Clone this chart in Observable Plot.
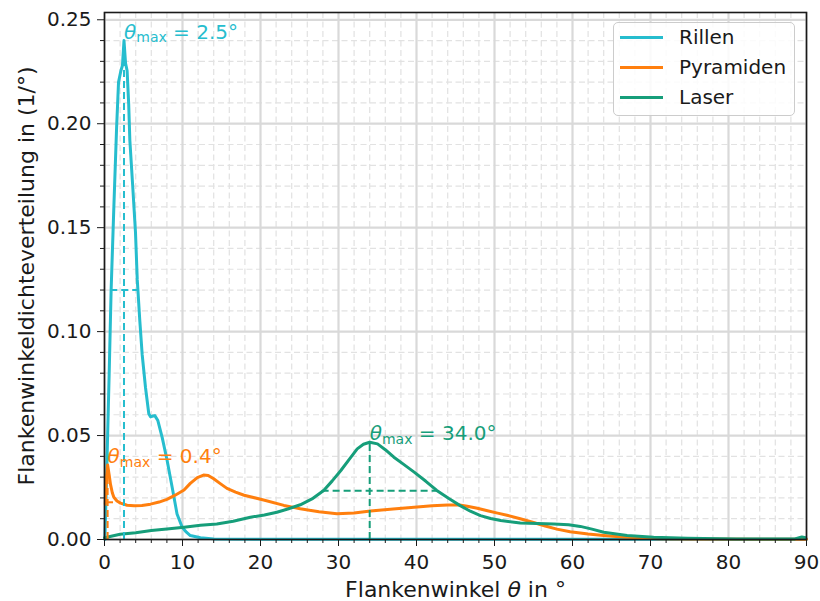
<!DOCTYPE html>
<html><head><meta charset="utf-8">
<script src="https://cdn.jsdelivr.net/npm/d3@7"></script>
<script src="https://cdn.jsdelivr.net/npm/@observablehq/plot@0.6"></script>
<style>
body{margin:0;background:#fff;}
#wrap{position:relative;width:820px;height:601px;font-family:"DejaVu Sans";}
#legend{position:absolute;left:613px;top:22px;width:180px;height:92px;border:1px solid #cccccc;border-radius:5px;background:rgba(255,255,255,0.85);}
.row{position:absolute;left:0;height:30px;display:flex;align-items:center;font-size:20px;color:#1a1a1a;white-space:nowrap}
.row .sw{display:inline-block;width:43px;height:3px;margin-left:6px;margin-right:16px}
</style></head>
<body><div id="wrap"><div id="legend"></div></div>
<script>
const series = ["Rillen", "Pyramiden", "Laser"];
const colors = ["#26bdce", "#ff7f0e", "#169e7a"];

const rillenTheta   = [0.05, 0.3, 0.6, 0.85, 1.2, 1.55, 1.8, 2.1, 2.3, 2.5, 2.7, 2.9, 3.1, 3.25, 3.6, 3.97, 4.2, 4.53, 4.83, 5.26, 5.68, 5.9, 6.2, 6.45, 6.84, 7.4, 8.03, 8.68, 9.3, 9.96, 10.5, 11.0, 12.3, 14, 20, 30, 90];
const rillenDensity = [0.000, 0.035, 0.080, 0.120, 0.160, 0.198, 0.220, 0.2255, 0.228, 0.240, 0.229, 0.2255, 0.2096, 0.192, 0.171, 0.148, 0.125, 0.105, 0.089, 0.073, 0.0605, 0.059, 0.0594, 0.0596, 0.0572, 0.049, 0.038, 0.025, 0.0123, 0.0059, 0.0035, 0.0019, 0.0008, 0.0003, 0.0001, 0.0001, 0.0001];

const pyramidenTheta   = [0.1, 0.2, 0.4, 0.6, 0.77, 1.0, 1.2, 1.6, 2.05, 2.9, 3.8, 4.8, 5.9, 7.0, 8.0, 9.0, 10.2, 11.0, 11.9, 12.7, 13.3, 14.0, 14.8, 15.7, 16.8, 17.9, 20.4, 23.0, 25.1, 27.5, 29.8, 32.0, 34.1, 37.0, 39.7, 42.0, 44.0, 45.5, 46.5, 47.8, 49.1, 50.4, 51.6, 53.3, 55.0, 56.5, 58.0, 59.7, 62.0, 64.0, 66.0, 68.3, 71.0, 75.0, 90.0];
const pyramidenDensity = [0.017, 0.028, 0.0358, 0.031, 0.0265, 0.0225, 0.0203, 0.0185, 0.0175, 0.0165, 0.0162, 0.0164, 0.0170, 0.0180, 0.0193, 0.0212, 0.0238, 0.0270, 0.0298, 0.0310, 0.0308, 0.0292, 0.0270, 0.0246, 0.0228, 0.0213, 0.0190, 0.0164, 0.0148, 0.0133, 0.0124, 0.0128, 0.0137, 0.0147, 0.0155, 0.0162, 0.0166, 0.0166, 0.0160, 0.0150, 0.0138, 0.0127, 0.0117, 0.0100, 0.0082, 0.0065, 0.0050, 0.0037, 0.0026, 0.0019, 0.0013, 0.0008, 0.0004, 0.0002, 0.0001];

const laserTheta   = [0, 2, 4, 6, 8, 10.2, 12.3, 14.4, 16.5, 18.7, 20.5, 22.1, 23.6, 25.1, 26.6, 28.1, 29.2, 30.3, 31.4, 32.4, 33.2, 34.0, 35.0, 36.0, 37.1, 38.4, 39.7, 41.2, 42.6, 44.1, 45.6, 46.9, 48.2, 49.5, 50.8, 53.3, 55.5, 57.6, 59.5, 61.0, 62.5, 64.0, 67.0, 70.4, 74.7, 81.0, 88.5, 89.4, 89.9];
const laserDensity = [0.0008, 0.0025, 0.0032, 0.0043, 0.0050, 0.0059, 0.0068, 0.0075, 0.0088, 0.0107, 0.0118, 0.0131, 0.0148, 0.0167, 0.0195, 0.0236, 0.0282, 0.0332, 0.0387, 0.0436, 0.0458, 0.0468, 0.0460, 0.0432, 0.0396, 0.0360, 0.0324, 0.0280, 0.0236, 0.0198, 0.0163, 0.0136, 0.0115, 0.0101, 0.0091, 0.0079, 0.0077, 0.0075, 0.0071, 0.0063, 0.0050, 0.0035, 0.0019, 0.0011, 0.0006, 0.0003, 0.0003, 0.0012, 0.0008];

const peakTheta   = [2.5, 0.4, 34.0];
const peakDensity = [0.240, 0.0358, 0.0468];
const fwhmLeft    = [0.8, 0.26, 27.9];
const fwhmRight   = [4.25, 1.41, 42.65];

const xMajor = [0, 10, 20, 30, 40, 50, 60, 70, 80, 90];
const xMinor = d3.range(0, 91, 2).filter(v => v % 10 !== 0);
const yMajor = [0, 0.05, 0.10, 0.15, 0.20, 0.25];
const yMinor = d3.range(0, 26).filter(i => i % 5 !== 0).map(i => i / 100);

const xLabel = "Flankenwinkel θ in °";
const yLabel = "Flankenwinkeldichteverteilung in (1/°)";

const thetas = [rillenTheta, pyramidenTheta, laserTheta];
const dens = [rillenDensity, pyramidenDensity, laserDensity];
const rows = series.flatMap((s, i) => thetas[i].map((t, j) => ({series: s, theta: t, density: dens[i][j]})));
const peaks = series.map((s, i) => ({series: s, theta: peakTheta[i], peak: peakDensity[i], half: peakDensity[i] / 2, left: fwhmLeft[i], right: fwhmRight[i]}));

const dash = "7,4";
const chart = Plot.plot({
  width: 820, height: 601,
  marginLeft: 104, marginRight: 14, marginTop: 12, marginBottom: 62,
  style: {fontFamily: "DejaVu Sans", fontSize: "20px", color: "#1a1a1a", background: "white"},
  x: {domain: [0, 90]},
  y: {domain: [0, 0.2535]},
  color: {domain: series, range: colors},
  marks: [
    Plot.gridX(xMinor, {stroke: "#e2e2e2", strokeOpacity: 1, strokeWidth: 1.2, strokeDasharray: "6,3.5"}),
    Plot.gridY(yMinor, {stroke: "#e2e2e2", strokeOpacity: 1, strokeWidth: 1.2, strokeDasharray: "6,3.5"}),
    Plot.gridX(xMajor, {stroke: "#d9d9d9", strokeOpacity: 1, strokeWidth: 2.2}),
    Plot.gridY(yMajor, {stroke: "#d9d9d9", strokeOpacity: 1, strokeWidth: 2.2}),
    Plot.line(rows, {x: "theta", y: "density", z: "series", stroke: "series", strokeWidth: 3, curve: "linear"}),
    Plot.ruleX(peaks, {x: "theta", y1: 0, y2: "peak", stroke: "series", strokeWidth: 2, strokeDasharray: dash}),
    Plot.ruleY(peaks, {y: "half", x1: "left", x2: "right", stroke: "series", strokeWidth: 2, strokeDasharray: dash}),
    Plot.text(peaks, {x: "theta", y: "peak", text: d => `θmax = ${d.theta.toFixed(1)}°`, fill: "series", textAnchor: "start", lineAnchor: "bottom", dy: -2, fontSize: 20}),
    Plot.frame({stroke: "#1a1a1a", strokeWidth: 1.6}),
    Plot.axisX(xMajor, {tickSize: 7, tickPadding: 8, tickFormat: d => String(d), label: null, fontSize: 20}),
    Plot.axisX(xMinor, {tickSize: 4, tickFormat: () => "", label: null}),
    Plot.axisY(yMajor, {tickSize: 7, tickPadding: 6, tickFormat: d3.format(".2f"), label: null, fontSize: 20}),
    Plot.axisY(yMinor, {tickSize: 4, tickFormat: () => "", label: null}),
    Plot.text([xLabel], {frameAnchor: "bottom", textAnchor: "middle", lineAnchor: "bottom", dy: 57, text: d => d, fontSize: 22, fill: "#1a1a1a"}),
    Plot.text([yLabel], {frameAnchor: "left", textAnchor: "middle", lineAnchor: "middle", dx: -78, rotate: -90, text: d => d, fontSize: 22, fill: "#1a1a1a"})
  ]
});

d3.select(chart).selectAll("text").each(function () {
  const t = this.textContent;
  const s = d3.select(this);
  if (t.startsWith("θmax")) {
    const rest = t.slice(4);
    this.textContent = "";
    s.append("tspan").attr("font-style", "italic").text("θ");
    s.append("tspan").attr("font-size", "14px").attr("dy", "3.5").text("max");
    s.append("tspan").attr("dy", "-3.5").text(rest);
  } else if (t === xLabel) {
    const parts = t.split("θ");
    this.textContent = "";
    s.append("tspan").text(parts[0]);
    s.append("tspan").attr("font-style", "italic").text("θ");
    s.append("tspan").text(parts[1]);
  }
});

const wrap = document.getElementById("wrap");
wrap.insertBefore(chart, wrap.firstChild);
chart.style.position = "absolute";
chart.style.left = "0";
chart.style.top = "0";

const legend = document.getElementById("legend");
series.forEach((s, i) => {
  const row = document.createElement("div");
  row.className = "row";
  row.style.top = (-1 + 30 * i) + "px";
  const sw = document.createElement("span");
  sw.className = "sw";
  sw.style.background = colors[i];
  const lab = document.createElement("span");
  lab.textContent = s;
  row.appendChild(sw);
  row.appendChild(lab);
  legend.appendChild(row);
});
</script>
</body></html>
